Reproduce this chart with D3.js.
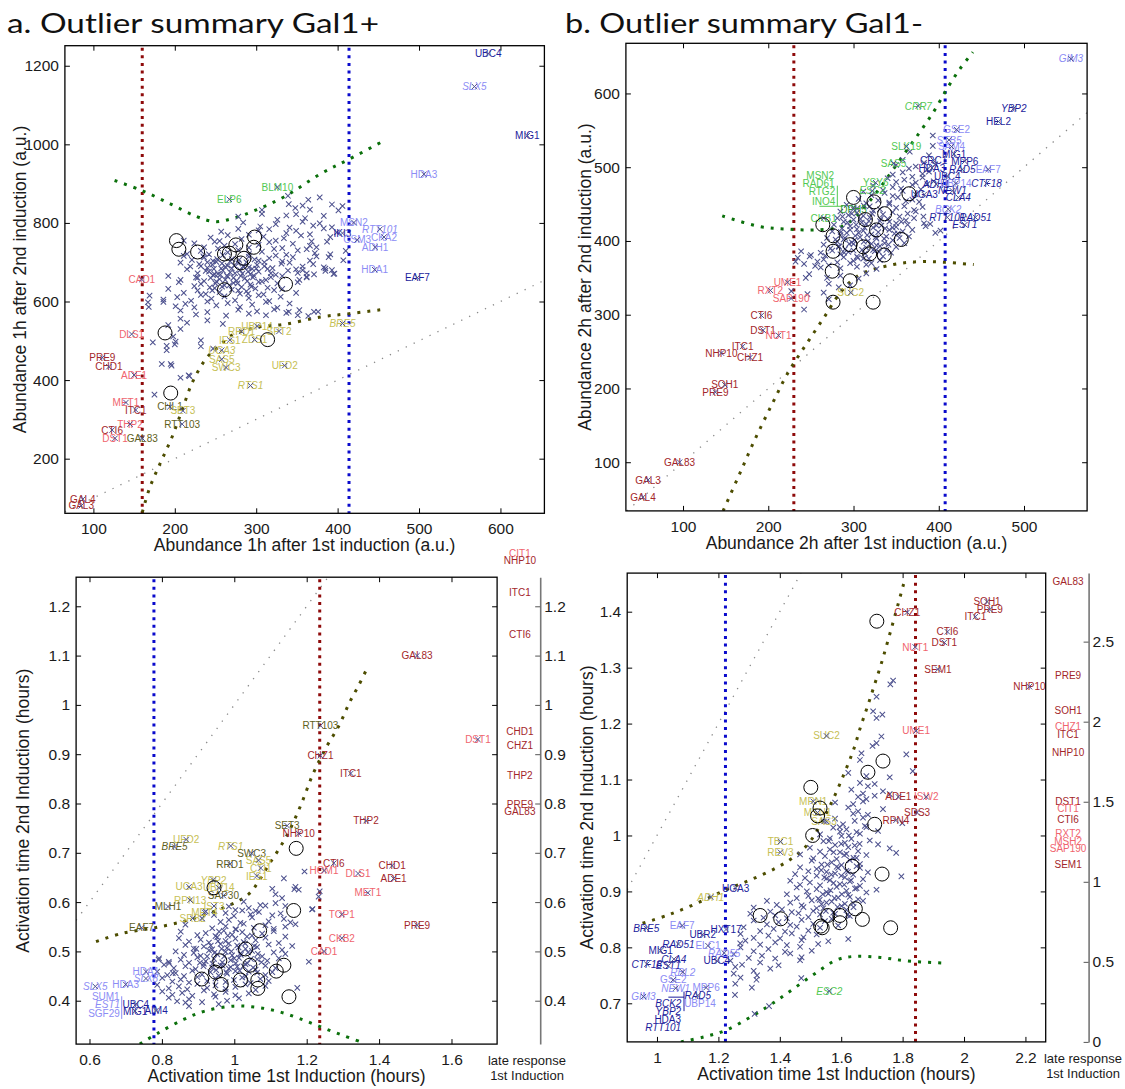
<!DOCTYPE html>
<html>
<head>
<meta charset="utf-8">
<script src="https://cdn.jsdelivr.net/npm/d3@7"></script>
<style>body{margin:0;background:#fff}</style>
</head>
<body>
<script>
// ---------------- data ----------------
// gene colour classes
const COLORS = {dr:"#a3262a", lr:"#f0646e", do:"#60601c", lo:"#c6c055", db:"#1c1c9c", lb:"#8c8cf5", lg:"#52c952", dg:"#2e9a2e"};

// ---- a, top: abundance 1h after 1st vs 2nd induction ----
const a1XTicks = [100,200,300,400,500,600];
const a1YTicks = [200,400,600,800,1000,1200];
const a1Thresholds = [[160,"red"],[414,"blue"]];
const a1Upper = [[126,908],[160,882],[195,848],[227,816],[250,803],[272,812],[300,833],[335,867],[380,926],[414,962],[455,1007]];
const a1Lower = [[160,63],[169,125],[182,188],[196,252],[209,324],[222,396],[240,459],[254,485],[268,512],[300,534],[335,542],[380,561],[414,569],[457,580]];
const a1Cloud = [
[339,869],[364,859],[378,865],
[307,833],[340,848],[348,838],[357,844],[366,834],[393,847],[401,832],[406,843],
[278,816],[307,823],[326,808],[337,819],[349,822],[360,812],[383,818],
[284,801],[305,791],[324,797],[341,788],[357,803],[370,793],[378,799],[393,789],
[257,778],[278,785],[291,770],[303,781],[316,784],[337,774],[349,780],[366,771],[383,786],[399,776],
[211,755],[244,763],[255,754],[265,769],[282,759],[309,765],[324,755],[334,761],[355,768],[368,753],[391,764],
[224,748],[236,738],[249,752],[261,742],[274,746],[291,737],[303,744],[316,751],[332,736],[345,747],[366,742],[374,738],[387,752],
[215,721],[232,729],[242,720],[253,735],[265,725],[278,731],[291,721],[307,727],[322,734],[337,719],[351,730],[362,733],[372,723],[391,720],[410,729],
[211,716],[221,706],[236,712],[247,703],[259,718],[270,708],[291,714],[303,704],[316,710],[324,717],[332,702],[345,713],[366,704],[374,715],
[207,699],[219,689],[230,695],[240,686],[251,701],[265,691],[278,697],[291,687],[301,693],[310,700],[320,685],[331,696],[341,699],[357,689],[370,695],[383,687],
[215,682],[228,672],[238,678],[249,669],[257,684],[268,674],[280,680],[293,670],[303,676],[314,683],[324,668],[339,679],[349,682],[362,672],[385,678],[395,670],
[192,665],[207,655],[226,661],[236,652],[247,667],[255,657],[265,663],[276,653],[286,659],[297,666],[307,651],[318,662],[332,665],[353,655],[362,661],
[205,649],[224,639],[232,645],[243,636],[251,651],[261,641],[272,647],[282,637],[293,643],[303,650],[314,635],[326,646],[351,649],
[192,632],[211,622],[228,628],[238,619],[249,634],[255,624],[270,630],[280,620],[288,626],[299,633],[309,618],[322,629],[332,632],[349,622],
[169,615],[186,605],[203,611],[220,602],[232,617],[245,607],[261,613],[274,603],[291,609],[303,616],[316,601],[330,612],
[167,598],[201,588],[213,594],[224,585],[240,600],[251,590],[265,596],[280,586],[295,592],[312,599],[326,584],[341,595],
[207,577],[226,567],[240,573],[263,564],[278,579],[291,569],[301,575],[312,565],[337,571],[353,578],[364,563],[376,574],
[207,556],[215,546],[240,552],[259,543],[192,540],[207,530],[198,511],[232,501],
[173,496],[190,487],[201,498],[190,476],[232,486],[247,480],[184,441],[196,437],[207,406],[217,412],[175,363],
[168,586],[186,599],[200,491],[195,441],[218,410],
[351,673],[357,680],[362,663],[371,669],[385,684],[396,671],[371,574],[351,565],[340,574],[322,580],[407,705],[389,713],[393,680],
[240,700],[246,694],[252,708],[258,697],[262,688],[268,702],[273,692],[279,706],[284,690],[288,700],[295,683],[298,707],
[242,676],[248,683],[253,670],[259,679],[264,666],[270,684],[274,672],[281,665],[285,688],[290,676],[296,661],[300,684],
[244,660],[250,646],[256,668],[262,655],[267,641],[272,660],[277,646],[283,671],[289,652],[294,638],[246,628],[258,638],[278,628],[290,620],
[232,690],[228,660],[235,715],[310,690],[318,672],[312,655]
];
const a1Circles = [[202,755],[205,733],[228,726],[261,721],[267,723],[275,744],[298,764],[297,738],[285,710],[281,698],[261,630],[336,644],[188,520],[314,503],[195,367]];
// [gene, x, y, colour class, flags: i = italic, n = no marker]
const a1Genes = [
["UBC4",585,1231,"db"],["SLX5",568,1147,"lb","i"],["MIG1",633,1022,"db"],["HDA3",506,924,"lb"],
["BLM10",326,891,"lg"],["ELP6",267,860,"lg"],["MSN2",420,801,"lb"],["RTT101",452,784,"lb","i"],
["IKI3",406,774,"db"],["CKA2",457,764,"lb"],["CSM3",424,757,"lb"],["ADH1",446,738,"lb"],
["HDA1",445.5,681,"lb"],["EAF7",498,661,"db"],["CAD1",159.5,656,"lr"],["DLS1",147,517,"lr"],
["BRE5",406,544,"lo","i"],["UBP14",301,537,"lo"],["RRD1",282,524,"lo"],["SPT2",328,524,"lo"],
["IES1",267.6,502,"lo"],["ZDS1",298,503,"lo"],["UGA3",257.7,476,"lo","i"],["SAS5",257.7,453,"lo"],
["SWC3",263,432,"lo"],["UFD2",335,437,"lo"],["RTS1",293,386,"lo","i"],["PRE9",111,457,"dr"],
["CHD1",119,434,"dr"],["ADE1",150,413,"lr"],["MET1",140,343,"lr"],["ITC1",152,324,"dr"],
["CHL1",194,332,"do"],["SET3",210,322,"lo"],["RTT103",209,288,"do"],["THP2",145,288,"lr"],
["CTI6",123,273,"dr"],["DST1",126.6,252,"lr"],["GAL83",160,252,"do"],["GAL4",87,97,"dr"],["GAL3",85,80,"dr"]
];

// ---- b, top: abundance 2h after 1st vs 2nd induction ----
const b1XTicks = [100,200,300,400,500];
const b1YTicks = [100,200,300,400,500,600];
const b1Thresholds = [[230,"red"],[407.5,"blue"]];
const b1Upper = [[146,434],[190,419.5],[223,416],[255,415],[286,419.5],[303,433],[320,455.5],[336,480],[357,514],[378,548],[395,577],[410,607],[424,632],[440,656]];
const b1Lower = [[147,34],[165,80.5],[184,130],[205,180],[223,221],[244,259],[265,295.5],[286,332],[307,354],[347,368],[378,372],[407.5,371],[441,368]];
const b1Cloud = [
[393,543],[393,529],[366,521],[388.5,516],[357.7,510],[382.7,506],
[350,503],[365,498],[373,501],[386.5,497],[396,504],
[346,490],[357.7,493],[369,487],[381,491],[388.5,494],
[340,485],[350,480],[359.6,483],[373,479],[381,486],[394,481],
[323,475],[334.6,469],[346,473],[355.8,471],[369,476],[379,470],[386.5,477],
[311.5,467],[321,462],[336.5,465],[346,461],[357.7,468],[373,463],
[306,457],[315,451],[329,455],[342,452],[352,459],[361.5,454],[369,456],[377,453],
[292,449],[304,444],[319,447],[331,443],[342,450],[350,445],[359.6,447],[371,442],[381,446],
[284.6,440],[294,435],[304,438],[311.5,434],[323,441],[334.6,436],[346,439],[354,433],[363.5,437],[373,440],[382,433],
[281,431],[288.5,426],[300,429],[309.6,425],[319,432],[331,427],[340,430],[350,424],[361.5,428],[371,431],[382.7,424],
[277,422],[286.5,417],[296,420],[304,416],[315,423],[323,418],[332.7,421],[342,415],[350,419],[363.5,422],[369,415],[384.6,420],[390,423],
[275,413],[284.6,408],[292,411],[302,407],[311.5,414],[321,409],[329,412],[338.5,406],[348,410],[357.7,413],[365,406],[396,411],[402,414],
[269,404],[281,399],[288.5,402],[298,398],[307.7,405],[317,400],[327,403],[336.5,397],[346,401],[354,404],[359.6,397],
[265,395],[273,390],[282.7,393],[290,389],[300,396],[315,391],[327,394],[338.5,388],[350,392],
[238.5,386],[250,381],[261.5,384],[267,380],[275,387],[284.6,382],[294,385],[304,379],[313.5,383],[325,386],[334.6,379],[344,384],
[234.6,377],[257.7,372],[265,375],[281,371],[288.5,378],[300,373],[311.5,376],[321,370],[331,374],
[242,369],[261.5,364],[271,367],[284.6,363],[296,370],[304,365],[315,368],[327,362],
[248,355],[269,350],[284.6,353],[306,349],[315,356],
[271,342],[282.7,337],[296,340],[227,332],[246,328],[265,330],[242,307],[271,321],
[232,372],[248.5,379],[255,366],[244,350],
[287,433],[293,425],[298,437],[303,422],[308,430],[313,418],[318,427],[322,437],[327,421],[332,430],[337,417],[342,426],
[285,412],[290,404],[296,415],[301,401],[306,411],[312,399],[316,408],[321,396],[326,405],[331,393],[336,403],[341,395],
[283,392],[289,384],[295,396],[300,387],[305,377],[310,388],[318,376],[323,388],[330,385],[279,402],[346,418],[352,410],[356,426],[300,445],[312,448]
];
const b1Circles = [[300,459],[324,453],[336.5,437],[314,429],[327,415],[365,464],[264,422],[276,407],[276,386],[296,395],[311.5,392],[319,382.5],[336,381],[356,402],[275,359],[296,346],[276,317],[323,317]];
const b1Genes = [
["GIM3",555,647,"lb","i"],["CRR7",376,583,"lg","i"],["YBP2",488,580,"db","i"],["HEL2",470,562,"db"],
["GSE2",421,551,"lb"],["STB5",412,537,"lb","i"],["SAM4",415,528,"lb"],["SLK19",362,528,"lg"],
["MIG1",418,518,"db"],["CRC1",394,509,"db"],["MPP6",430.5,508,"db"],["SAS5",347,505,"lg"],
["HDA3",392,499,"db"],["RAD5",427.6,497,"db","i"],["EAF7",458,497,"lb"],["UBC4",410,488,"db"],
["MSN2",261,489,"lg","n"],["RAD61",259,478,"lg","n"],["YSY6",326,479,"lg"],["ADH1",397,477,"db","i"],
["UBP14",420,478,"lb"],["CTF18",456,478,"db","i"],["RTG2",263,467,"lg","n"],["ESC2",322,468,"lg","i"],
["NEW1",416,468,"db","i"],["UGA3",383,463,"db"],["CLA4",423,459,"db","i"],["INO4",265,453,"lg","n"],
["DPH5",300,443,"dg"],["BCK2",411,443,"lb","i"],["RTT101",410,432,"db","i"],["RAD51",443,432,"db","i"],
["EST1",430.5,422,"db","i"],["CKB1",265,431,"lg"],["UME1",222.6,344,"lr"],["RXT2",202.5,333,"lr"],
["SAP190",226.8,322,"lr"],["SUC2",296.7,330,"lo"],["CTI6",192,299,"dr"],["DST1",194,279,"dr"],
["NUT1",212,272,"lr"],["ITC1",170,257,"dr"],["NHP10",145,248,"dr"],["CHZ1",178.7,242,"dr"],
["SOH1",149,205,"dr"],["PRE9",138,195,"dr"],["GAL83",96,100,"dr"],["GAL3",59,76,"dr"],["GAL4",53,52.5,"dr"]
];
const b1Brackets = [[[260,447],[288,447]],[[281,475],[281,447]]];

// ---- a, bottom: activation times ----
const a2XTicks = [0.6,0.8,1,1.2,1.4,1.6];
const a2YTicks = [0.4,0.5,0.6,0.7,0.8,0.9,1,1.1,1.2];
const a2Thresholds = [[0.778,"blue"],[1.236,"red"]];
const a2Upper = [[0.618,0.520],[0.692,0.537],[0.781,0.548],[0.880,0.565],[0.978,0.591],[1.038,0.615],[1.067,0.642],[1.092,0.672],[1.122,0.706],[1.151,0.743],[1.184,0.797],[1.218,0.861],[1.255,0.915],[1.290,0.959],[1.319,1.006],[1.344,1.040],[1.366,1.073]];
const a2Lower = [[0.739,0.312],[0.791,0.335],[0.860,0.362],[0.919,0.379],[0.998,0.389],[1.058,0.387],[1.117,0.379],[1.176,0.365],[1.235,0.348],[1.295,0.331],[1.359,0.314]];
const a2Cloud = [
[1.137,.648],[1.105,.627],[1.169,.631],[1.178,.625],[1.114,.616],[1.132,.608],[1.233,.611],
[1.026,.601],[1.072,.594],[1.114,.598],[1.141,.592],
[.985,.591],[1.003,.584],[1.040,.588],[1.059,.582],[1.086,.593],[1.215,.585],
[.921,.581],[.944,.574],[.976,.578],[.999,.572],[1.022,.583],[1.045,.575],[1.068,.580],[1.105,.573],[1.128,.577],
[.911,.567],[.962,.560],[.985,.564],[1.017,.558],[1.049,.569],[1.095,.561],[1.137,.566],[1.155,.559],
[.865,.554],[.939,.547],[.976,.551],[1.003,.545],[1.026,.556],[1.054,.548],[1.086,.553],[1.109,.546],[1.141,.550],[1.169,.555],
[.852,.540],[.898,.533],[.921,.537],[.948,.531],[.971,.542],[.994,.534],[1.022,.539],[1.049,.532],[1.077,.536],[1.109,.541],[1.141,.530],
[.847,.527],[.875,.520],[.907,.524],[.930,.518],[.953,.529],[.976,.521],[1.003,.526],[1.026,.519],[1.059,.523],[1.086,.528],[1.123,.517],
[.865,.513],[.888,.506],[.916,.510],[.939,.504],[.962,.515],[.980,.507],[1.008,.512],[1.031,.505],[1.063,.509],[1.095,.514],[1.132,.503],[1.160,.511],
[.838,.500],[.861,.493],[.888,.497],[.907,.491],[.930,.502],[.953,.494],[.976,.499],[.994,.492],[1.017,.496],[1.049,.501],[1.077,.490],[1.109,.498],[1.141,.495],
[.792,.486],[.819,.479],[.852,.483],[.875,.477],[.898,.488],[.921,.480],[.944,.485],[.967,.478],[.990,.482],[1.013,.487],[1.036,.476],[1.063,.484],[1.091,.481],[1.123,.486],[1.206,.479],
[.806,.473],[.833,.466],[.865,.470],[.893,.464],[.916,.475],[.939,.467],[.962,.472],[.985,.465],[1.008,.469],[1.031,.474],[1.059,.463],[1.086,.471],[1.114,.466],
[.787,.459],[.815,.452],[.838,.456],[.861,.450],[.884,.461],[.911,.453],[.934,.458],[.957,.451],[.980,.455],[1.003,.460],[1.031,.449],[1.063,.457],[1.086,.452],[1.105,.458],
[.801,.446],[.829,.439],[.852,.443],[.875,.437],[.898,.448],[.925,.440],[.948,.445],[.976,.438],[.999,.442],[1.022,.447],[1.045,.436],[1.072,.444],[1.095,.440],
[.787,.432],[.819,.425],[.847,.429],[.870,.423],[.898,.434],[.925,.426],[.948,.431],[.976,.424],[1.003,.428],[1.031,.433],[1.059,.422],[1.086,.430],[1.174,.426],
[.801,.419],[.829,.412],[.856,.416],[.884,.410],[.916,.421],[.944,.413],[.976,.418],[1.003,.411],[1.040,.415],
[.819,.406],[.842,.399],[.875,.403],[.911,.397],[.948,.408],[.980,.400],[1.013,.405],
[.865,.396],[.875,.389],[.957,.393],
[1.216,.586],[1.194,.662],[1.236,.622],[1.166,.626],[.791,.483],[.820,.476],[.830,.456],
[.935,.512],[.945,.497],[.955,.521],[.965,.505],[.972,.490],[.985,.516],[.992,.500],[1.000,.486],[1.012,.508],[1.018,.493],[1.030,.516],[1.038,.498],[1.046,.485],[1.055,.511],
[.940,.475],[.950,.462],[.968,.471],[.978,.458],[.990,.468],[1.004,.476],[1.015,.461],[1.025,.470],[1.040,.459],[1.052,.467],[.925,.490],[.915,.470],[1.065,.495],[1.075,.478],
[.958,.540],[.982,.532],[1.005,.545],[1.035,.530],[.895,.505],[.905,.477]
];
const a2Circles = [[.944,.629],[1.171,.709],[1.164,.583],[1.070,.542],[1.031,.505],[.960,.481],[1.043,.472],[.948,.458],[.910,.444],[.964,.433],[1.017,.442],[1.065,.442],[1.065,.425],[1.116,.460],[1.137,.472],[1.151,.408]];
const a2Genes = [
["RTT103",1.238,.958,"do"],["CHZ1",1.238,.897,"dr"],["ITC1",1.322,.861,"dr"],["GAL83",1.505,1.100,"dr"],
["DST1",1.673,.930,"lr"],["THP2",1.364,.765,"dr"],["SET3",1.146,.755,"do"],["NHP10",1.178,.739,"dr"],
["UFD2",.867,.727,"lo"],["BRE5",.835,.712,"do","i"],["RTS1",.990,.714,"lo","i"],["SWC3",1.048,.699,"do"],
["SAS5",1.067,.685,"lo"],["RRD1",.988,.677,"do"],["CTI6",1.275,.679,"dr"],["HOM1",1.248,.664,"lr"],
["CHD1",1.436,.674,"dr"],["DLS1",1.342,.658,"lr"],["CTI1",1.073,.669,"lo"],["IES1",1.062,.653,"lo"],
["ADE1",1.440,.648,"dr"],["YBP2",.942,.645,"lo","i"],["UGA3",.875,.631,"lo"],["UBP14",.957,.629,"lo"],
["MET1",1.369,.619,"lr"],["SAP30",.970,.613,"do"],["RPN13",.878,.604,"lo"],["IST3",.944,.592,"lo"],
["MLH1",.817,.591,"do"],["MET4",.918,.579,"lo"],["SRB2",.885,.567,"lo"],["TOP1",1.297,.575,"lr"],
["PRE9",1.505,.553,"dr"],["EAF7",.744,.548,"do"],["CKB2",1.297,.527,"lr"],["CAD1",1.248,.500,"lr"],
["HDA1",.756,.459,"lb"],["SLX8",.756,.445,"lb","i"],["SLX5",.616,.429,"lb","i"],["HDA3",.700,.433,"lb"],
["SUM1",.645,.408,"lb","n"],["EST1",.650,.392,"lb","in"],["SGF29",.640,.375,"lb","n"],["UBC4",.728,.393,"db"],
["MIG1",.726,.379,"db"],["AIM4",.784,.380,"db"]
];
const a2Brackets = [[[0.689,0.409],[0.689,0.363]]];
const a2LateTicks = [0.4,0.5,0.6,0.7,0.8,0.9,1,1.1,1.2];
const a2Late = [["CIT1",1.307,"lr"],["NHP10",1.293,"dr"],["ITC1",1.228,"dr"],["CTI6",1.143,"dr"],["CHD1",.946,"dr"],["CHZ1",.918,"dr"],["THP2",.857,"dr"],["PRE9",.798,"dr"],["GAL83",.784,"dr"]];

// ---- b, bottom: activation times ----
const b2XTicks = [1,1.2,1.4,1.6,1.8,2,2.2];
const b2YTicks = [0.7,0.8,0.9,1,1.1,1.2,1.3,1.4];
const b2Thresholds = [[1.223,"blue"],[1.842,"red"]];
const b2Upper = [[0.953,0.843],[1.037,0.858],[1.131,0.879],[1.225,0.903],[1.306,0.921],[1.388,0.942],[1.447,0.962],[1.494,0.986],[1.529,1.016],[1.572,1.063],[1.610,1.111],[1.640,1.153],[1.663,1.194],[1.687,1.233],[1.710,1.272],[1.731,1.308],[1.751,1.346],[1.774,1.391],[1.807,1.457]];
const b2Lower = [[1.078,0.631],[1.154,0.640],[1.225,0.652],[1.306,0.676],[1.377,0.700],[1.447,0.727],[1.517,0.754],[1.587,0.778],[1.646,0.784],[1.727,0.782],[1.809,0.776],[1.926,0.772]];
const b2Cloud = [
[1.760,1.270],[1.769,1.277],[1.715,1.248],[1.704,1.222],[1.734,1.216],[1.715,1.210],[1.731,1.177],[1.715,1.165],[1.702,1.160],
[1.666,1.147],[1.812,1.145],[1.661,1.135],[1.623,1.112],[1.682,1.106],[1.833,1.115],[1.758,1.104],[1.661,1.094],[1.687,1.088],[1.709,1.092],
[1.633,1.082],[1.671,1.075],[1.736,1.079],[1.758,1.074],[1.655,1.069],[1.682,1.065],[1.709,1.071],
[1.671,1.061],[1.639,1.056],[1.580,1.059],[1.623,1.050],[1.655,1.043],[1.736,1.047],
[1.580,1.030],[1.639,1.039],[1.671,1.032],[1.687,1.037],
[1.552,1.025],[1.606,1.020],[1.644,1.026],[1.677,1.017],[1.799,1.022],
[1.574,1.014],[1.596,1.007],[1.617,1.011],[1.650,1.006],[1.682,1.015],[1.720,1.008],
[1.531,1.002],[1.563,.995],[1.601,.999],[1.633,.994],[1.661,1.003],
[1.542,.990],[1.580,.983],[1.612,.987],[1.644,.982],[1.693,.991],[1.720,.984],
[1.498,.978],[1.531,.971],[1.563,.975],[1.596,.970],[1.623,.979],[1.655,.972],[1.758,.977],[1.779,.969],
[1.466,.966],[1.509,.959],[1.547,.963],[1.585,.958],[1.617,.967],[1.650,.960],[1.682,.965],
[1.504,.955],[1.536,.948],[1.569,.952],[1.601,.947],[1.628,.956],[1.661,.949],
[1.466,.943],[1.493,.936],[1.520,.940],[1.552,.935],[1.585,.944],[1.617,.937],[1.661,.942],[1.687,.934],
[1.450,.931],[1.482,.924],[1.520,.928],[1.552,.923],[1.580,.932],[1.612,.925],[1.639,.930],[1.671,.922],[1.796,.927],
[1.434,.919],[1.466,.912],[1.498,.916],[1.531,.911],[1.563,.920],[1.596,.913],[1.628,.918],[1.661,.910],
[1.455,.907],[1.488,.900],[1.520,.904],[1.552,.899],[1.585,.908],[1.617,.901],[1.650,.906],[1.682,.898],[1.715,.903],
[1.423,.895],[1.455,.888],[1.493,.892],[1.525,.887],[1.558,.896],[1.590,.889],[1.623,.894],[1.655,.886],
[1.358,.883],[1.390,.876],[1.434,.880],[1.471,.875],[1.504,.884],[1.536,.877],[1.569,.882],[1.601,.874],[1.639,.879],[1.671,.883],
[1.315,.871],[1.369,.864],[1.407,.868],[1.439,.863],[1.477,.872],[1.509,.865],[1.542,.870],[1.574,.862],[1.617,.867],
[1.304,.860],[1.347,.853],[1.385,.857],[1.423,.852],[1.461,.861],[1.493,.854],[1.531,.859],[1.569,.851],[1.628,.856],
[1.315,.848],[1.358,.841],[1.396,.845],[1.434,.840],[1.471,.849],[1.509,.842],[1.547,.847],[1.590,.839],
[1.282,.836],[1.336,.829],[1.380,.833],[1.417,.828],[1.455,.837],[1.493,.830],[1.531,.835],
[1.272,.824],[1.315,.817],[1.363,.821],[1.401,.816],[1.439,.825],[1.477,.818],[1.520,.823],[1.623,.815],
[1.288,.812],[1.336,.805],[1.385,.809],[1.423,.804],[1.471,.813],[1.525,.806],[1.558,.811],
[1.272,.800],[1.315,.793],[1.363,.797],[1.417,.792],[1.466,.801],[1.504,.794],
[1.250,.788],[1.299,.781],[1.342,.785],[1.385,.780],[1.434,.789],[1.471,.782],
[1.239,.776],[1.277,.769],[1.336,.773],[1.396,.768],[1.466,.777],
[1.255,.765],[1.315,.758],[1.369,.762],[1.250,.753],[1.272,.746],[1.326,.750],[1.255,.735],[1.309,.728],
[1.254,.715],[1.324,.742],[1.365,.695],[1.318,.681],[1.470,.745],[1.271,.807],
[1.535,.938],[1.545,.925],[1.555,.948],[1.568,.930],[1.575,.915],[1.590,.942],[1.600,.928],[1.610,.912],[1.622,.935],[1.632,.920],[1.645,.905],[1.650,.945],
[1.540,.895],[1.552,.880],[1.565,.902],[1.578,.888],[1.588,.872],[1.602,.895],[1.612,.878],[1.628,.890],[1.640,.872],[1.520,.870],[1.530,.885],
[1.600,.985],[1.610,.965],[1.625,1.000],[1.595,1.015],[1.575,.970],[1.660,.985],[1.640,.960],[1.560,.990],[1.580,.860],[1.550,.865],[1.620,.858]
];
const b2Circles = [[1.501,1.086],[1.531,1.049],[1.523,1.035],[1.507,1.000],[1.687,1.113],[1.736,1.133],[1.709,1.020],[1.636,.945],[1.733,.931],[1.336,.857],[1.403,.851],[1.556,.857],[1.596,.857],[1.596,.844],[1.646,.869],[1.669,.850],[1.533,.838],[1.538,.835],[1.761,.835],[1.716,1.383]];
const b2Genes = [
["CHZ1",1.815,1.399,"dr"],["SOH1",2.075,1.418,"dr"],["PRE9",2.084,1.404,"dr"],["ITC1",2.037,1.391,"dr"],
["CTI6",1.946,1.364,"dr"],["DST1",1.936,1.345,"dr"],["NUT1",1.841,1.337,"lr"],["SEM1",1.915,1.297,"dr"],
["NHP10",2.213,1.266,"dr"],["SUC2",1.552,1.178,"lo"],["UME1",1.844,1.187,"lr"],["ADE1",1.786,1.069,"dr"],
["ISW2",1.877,1.069,"lr"],["MRN1",1.509,1.061,"lo"],["SDS3",1.847,1.041,"dr"],["RPN4",1.778,1.027,"dr"],
["MSN1",1.523,1.041,"lo"],["SAS3",1.544,1.025,"lo"],["TBC1",1.402,.989,"lo"],["REV3",1.402,.970,"lo"],
["UGA3",1.256,.906,"db"],["ADH1",1.175,.890,"lo","i"],["BRE5",.965,.834,"db","i"],["EAF7",1.082,.839,"lb"],
["HXT17",1.225,.832,"db"],["UBR2",1.149,.823,"db"],["RAD51",1.070,.806,"db","i"],["ELC1",1.166,.803,"lb"],
["MIG1",1.012,.794,"db"],["RAD55",1.219,.790,"lb","i"],["CLA4",1.055,.779,"db","i"],["UBC4",1.195,.776,"db"],
["CTF18",.967,.770,"db","i"],["EST1",1.037,.767,"db","i"],["RBL2",1.084,.756,"lb","i"],["GSE2",1.053,.742,"lb"],
["NEW1",1.061,.727,"lb","i"],["MPP6",1.160,.728,"lb"],["GIM3",.956,.712,"lb","i"],["RAD5",1.133,.714,"db","i"],
["BCK2",1.037,.700,"db","in"],["UBP14",1.140,.700,"lb","n"],["YBP2",1.037,.685,"db","in"],["HDA3",1.035,.671,"db","n"],
["RTT101",1.020,.657,"db","in"],["ESC2",1.561,.722,"lg","i"]
];
const b2Brackets = [[[1.037,0.711],[1.088,0.711]],[[1.088,0.721],[1.088,0.686]]];
const b2LateTicks = [0,0.5,1,1.5,2,2.5];
const b2Late = [["GAL83",2.876,"dr"],["PRE9",2.29,"dr"],["SOH1",2.07,"dr"],["CHZ1",1.97,"lr"],["ITC1",1.92,"dr"],["NHP10",1.81,"dr"],["DST1",1.50,"dr"],["CIT1",1.46,"lr"],["CTI6",1.39,"dr"],["RXT2",1.30,"lr"],["MSH2",1.25,"lr"],["SAP190",1.21,"lr"],["SEM1",1.11,"dr"]];

// ---------------- drawing ----------------
const FONT = "'Liberation Sans', Arial, Helvetica, sans-serif";
const LINE_COL = {red:"#8e0a0a", blue:"#0a0acc"};
const GREEN_COL = "#0b700b", OLIVE_COL = "#4d4d00";
const X_MARK = "M-2.7,-2.7L2.7,2.7M-2.7,2.7L2.7,-2.7";
const MARK_COL = "#4d518e";

const svg = d3.select("body").append("svg")
  .attr("width", 1125).attr("height", 1089).style("display", "block");
svg.append("rect").attr("width", 1125).attr("height", 1089).attr("fill", "#fff");
const defs = svg.append("defs");

function drawPanel(c) {
  const x = d3.scaleLinear().domain(c.xd).range(c.xr);
  const y = d3.scaleLinear().domain(c.yd).range(c.yr);
  const [xl, xr] = c.xr, [yb, yt] = c.yr;
  const g = svg.append("g");
  const clipId = "clip-" + c.id;
  defs.append("clipPath").attr("id", clipId).append("rect")
    .attr("x", xl).attr("y", yt).attr("width", xr - xl).attr("height", yb - yt);
  const plot = g.append("g").attr("clip-path", `url(#${clipId})`);

  // identity line
  const lo = Math.max(c.xd[0], c.yd[0]), hi = Math.min(c.xd[1], c.yd[1]);
  plot.append("line").attr("x1", x(lo)).attr("y1", y(lo)).attr("x2", x(hi)).attr("y2", y(hi))
    .attr("stroke", "#8a8a8a").attr("stroke-width", 1.3).attr("stroke-dasharray", "1.3,7.5");

  // threshold lines
  c.thresholds.forEach(([v, k]) => plot.append("line")
    .attr("x1", x(v)).attr("x2", x(v)).attr("y1", yt + 2).attr("y2", yb)
    .attr("stroke", LINE_COL[k]).attr("stroke-width", 3).attr("stroke-dasharray", "3,4.6"));

  // fitted envelopes
  const line = d3.line().x(d => x(d[0])).y(d => y(d[1])).curve(d3.curveCatmullRom);
  [[c.upper, c.upperCol], [c.lower, c.lowerCol]].forEach(([pts, col]) => plot.append("path")
    .attr("d", line(pts)).attr("fill", "none").attr("stroke", col)
    .attr("stroke-width", 3).attr("stroke-dasharray", "3,7"));

  // all genes
  plot.append("g").selectAll("path").data(c.cloud).join("path")
    .attr("d", X_MARK).attr("transform", d => `translate(${x(d[0])},${y(d[1])})`)
    .attr("stroke", MARK_COL).attr("stroke-width", 1.05).attr("fill", "none");

  // bracket lines grouping stacked names
  c.brackets.forEach(s => g.append("line")
    .attr("x1", x(s[0][0])).attr("y1", y(s[0][1])).attr("x2", x(s[1][0])).attr("y2", y(s[1][1]))
    .attr("stroke", c.bracketCol).attr("stroke-width", 1));

  // named outliers
  g.append("g").selectAll("text").data(c.genes).join("text")
    .attr("x", d => x(d[1])).attr("y", d => y(d[2])).attr("dy", "0.36em")
    .attr("text-anchor", "middle").attr("font-family", FONT).attr("font-size", 10)
    .attr("font-style", d => (d[4] || "").includes("i") ? "italic" : "normal")
    .attr("fill", d => COLORS[d[3]]).text(d => d[0]);
  g.append("g").selectAll("path").data(c.genes.filter(d => !(d[4] || "").includes("n"))).join("path")
    .attr("d", X_MARK).attr("transform", d => `translate(${x(d[1])},${y(d[2])})`)
    .attr("stroke", MARK_COL).attr("stroke-width", 1).attr("fill", "none");

  // circled genes
  g.append("g").selectAll("circle").data(c.circles).join("circle")
    .attr("cx", d => x(d[0])).attr("cy", d => y(d[1])).attr("r", 7)
    .attr("fill", "none").attr("stroke", "#000").attr("stroke-width", 1);

  // axes (ticks inside the box)
  const fmt = c.fmt;
  const style = sel => { sel.attr("font-family", FONT).attr("font-size", 15.5);
    sel.select(".domain").remove(); sel.selectAll("line").attr("stroke", "#000");
    sel.selectAll("text").attr("fill", "#1a1a1a"); };
  g.append("g").attr("transform", `translate(0,${yb})`)
    .call(d3.axisBottom(x).tickValues(c.xTicks).tickSize(-5).tickSizeOuter(0).tickPadding(10).tickFormat(fmt)).call(style);
  g.append("g").attr("transform", `translate(0,${yt})`)
    .call(d3.axisTop(x).tickValues(c.xTicks).tickSize(-5).tickSizeOuter(0).tickFormat("")).call(style);
  g.append("g").attr("transform", `translate(${xl},0)`)
    .call(d3.axisLeft(y).tickValues(c.yTicks).tickSize(-5).tickSizeOuter(0).tickPadding(6).tickFormat(fmt)).call(style);
  g.append("g").attr("transform", `translate(${xr},0)`)
    .call(d3.axisRight(y).tickValues(c.yTicks).tickSize(-5).tickSizeOuter(0).tickFormat("")).call(style);
  g.append("rect").attr("x", xl).attr("y", yt).attr("width", xr - xl).attr("height", yb - yt)
    .attr("fill", "none").attr("stroke", "#000").attr("stroke-width", 1.3);

  // axis titles
  g.append("text").attr("x", (xl + xr) / 2).attr("y", yb + 38).attr("text-anchor", "middle")
    .attr("font-family", FONT).attr("font-size", 17.5).attr("fill", "#1a1a1a").text(c.xTitle);
  g.append("text").attr("transform", `translate(${c.yTitleX},${(yt + yb) / 2}) rotate(-90)`)
    .attr("text-anchor", "middle").attr("font-family", FONT).attr("font-size", 17.5)
    .attr("fill", "#1a1a1a").text(c.yTitle);

  // late-response column
  if (c.late) {
    const L = c.late;
    const yl = d3.scaleLinear().domain(L.domain).range([yb, yt]);
    const ax = g.append("g").attr("transform", `translate(${L.axisX},0)`)
      .call(d3.axisRight(yl).tickValues(L.ticks).tickSize(-5).tickSizeOuter(0).tickPadding(4).tickFormat(d3.format("~g")));
    ax.attr("font-family", FONT).attr("font-size", 15.5);
    ax.select(".domain").attr("stroke", "#777").attr("stroke-width", 1.6);
    ax.selectAll("line").attr("stroke", "#555");
    ax.selectAll("text").attr("fill", "#1a1a1a");
    g.append("g").selectAll("text").data(L.genes).join("text")
      .attr("x", L.cx).attr("y", d => yl(d[1])).attr("dy", "0.36em").attr("text-anchor", "middle")
      .attr("font-family", FONT).attr("font-size", 10).attr("fill", d => COLORS[d[2]]).text(d => d[0]);
    ["late response", "1st Induction"].forEach((t, i) => g.append("text")
      .attr("x", L.noteX).attr("y", yb + 21 + i * 15).attr("text-anchor", "middle")
      .attr("font-family", FONT).attr("font-size", 13).attr("fill", "#1a1a1a").text(t));
  }
}

const intFmt = d3.format("d"), decFmt = d3.format("~g");

drawPanel({id: "a1", xd: [65, 654], xr: [64.9, 544.4], yd: [61, 1251], yr: [513.3, 45.7],
  xTicks: a1XTicks, yTicks: a1YTicks, fmt: intFmt, thresholds: a1Thresholds,
  upper: a1Upper, lower: a1Lower, upperCol: GREEN_COL, lowerCol: OLIVE_COL,
  cloud: a1Cloud, circles: a1Circles, genes: a1Genes,
  brackets: [], bracketCol: "#000",
  xTitle: "Abundance 1h after 1st induction (a.u.)", yTitle: "Abundance 1h after 2nd induction (a.u.)", yTitleX: 26});

drawPanel({id: "b1", xd: [33, 574], xr: [625.9, 1087.1], yd: [34, 668], yr: [510.9, 43.3],
  xTicks: b1XTicks, yTicks: b1YTicks, fmt: intFmt, thresholds: b1Thresholds,
  upper: b1Upper, lower: b1Lower, upperCol: GREEN_COL, lowerCol: OLIVE_COL,
  cloud: b1Cloud, circles: b1Circles, genes: b1Genes,
  brackets: b1Brackets, bracketCol: COLORS.lg,
  xTitle: "Abundance 2h after 1st induction (a.u.)", yTitle: "Abundance 2h after 2nd induction (a.u.)", yTitleX: 591});

drawPanel({id: "a2", xd: [0.563, 1.726], xr: [76.1, 497.1], yd: [0.312, 1.259], yr: [1044.1, 577.2],
  xTicks: a2XTicks, yTicks: a2YTicks, fmt: decFmt, thresholds: a2Thresholds,
  upper: a2Upper, lower: a2Lower, upperCol: OLIVE_COL, lowerCol: GREEN_COL,
  cloud: a2Cloud, circles: a2Circles, genes: a2Genes,
  brackets: a2Brackets, bracketCol: COLORS.lb,
  xTitle: "Activation time 1st Induction (hours)", yTitle: "Activation time 2nd Induction (hours)", yTitleX: 29,
  late: {domain: [0.312, 1.259], ticks: a2LateTicks, genes: a2Late, axisX: 540.2, cx: 519.9, noteX: 527}});

drawPanel({id: "b2", xd: [0.903, 2.266], xr: [627.2, 1045.7], yd: [0.631, 1.469], yr: [1041.9, 573.1],
  xTicks: b2XTicks, yTicks: b2YTicks, fmt: decFmt, thresholds: b2Thresholds,
  upper: b2Upper, lower: b2Lower, upperCol: OLIVE_COL, lowerCol: GREEN_COL,
  cloud: b2Cloud, circles: b2Circles, genes: b2Genes,
  brackets: b2Brackets, bracketCol: COLORS.db,
  xTitle: "Activation time 1st Induction (hours)", yTitle: "Activation time 2nd Induction (hours)", yTitleX: 593,
  late: {domain: [0, 2.928], ticks: b2LateTicks, genes: b2Late, axisX: 1088.6, cx: 1068.1, noteX: 1083}});

// panel titles
[["a. Outlier summary Gal1+", 7, 372], ["b. Outlier summary Gal1-", 565, 358]].forEach(([t, x0, w]) =>
  svg.append("text").attr("x", x0).attr("y", 33).attr("font-family", "Lato, 'Open Sans', sans-serif")
    .attr("font-size", 26).attr("fill", "#111").attr("textLength", w).attr("lengthAdjust", "spacingAndGlyphs").text(t));
</script>
</body>
</html>
